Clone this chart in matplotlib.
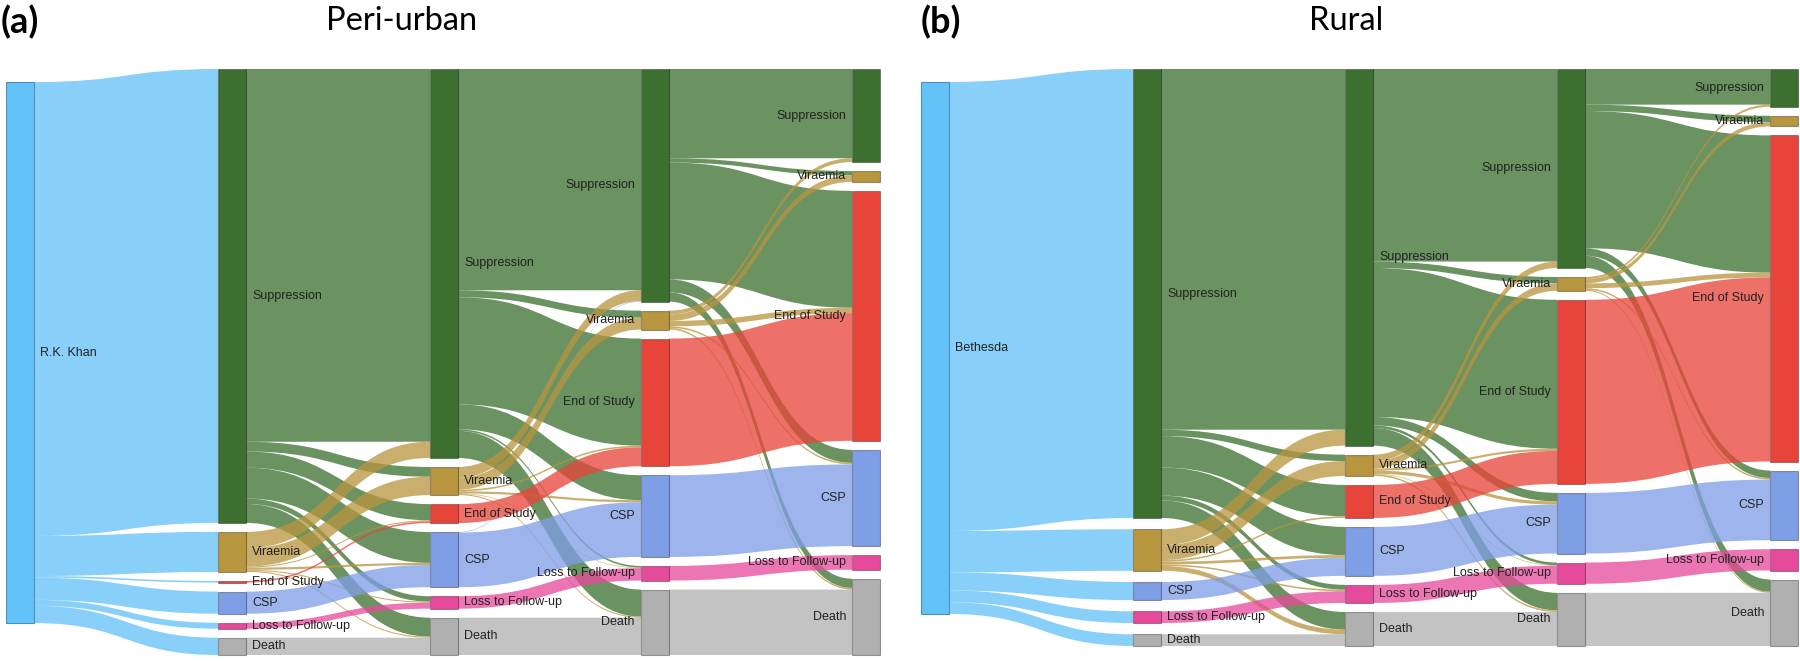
import numpy as np
import matplotlib.pyplot as plt
from matplotlib.patches import Rectangle, PathPatch
from matplotlib.path import Path

states = ["Suppression", "Viraemia", "End of Study", "CSP", "Loss to Follow-up", "Death"]
state_colors = ["#3d7030", "#b8953f", "#e8453a", "#7e9ee6", "#e64a9b", "#b0b0b0"]
source_color = "#63c2f8"

# patients per 1000
# first column: site -> state at first time point
periurban_start = [839, 74, 3, 41, 11, 32]
# rows = from state, columns = to state
periurban_step1 = [
    [689, 18, 30, 57, 10, 35],
    [30, 34, 2, 4, 2, 2],
    [0, 0, 3, 0, 0, 0],
    [0, 0, 0, 41, 0, 0],
    [0, 0, 0, 0, 11, 0],
    [0, 0, 0, 0, 0, 32],
]
periurban_step2 = [
    [409, 13, 198, 46, 3, 50],
    [20, 22, 3, 4, 1, 2],
    [0, 0, 35, 0, 0, 0],
    [1, 0, 0, 101, 0, 0],
    [0, 0, 0, 0, 23, 0],
    [0, 0, 0, 0, 0, 69],
]
periurban_step3 = [
    [165, 8, 216, 24, 0, 17],
    [7, 12, 10, 3, 0, 3],
    [0, 0, 236, 0, 0, 0],
    [0, 0, 0, 151, 0, 0],
    [0, 0, 0, 0, 27, 0],
    [0, 0, 0, 0, 0, 121],
]

rural_start = [844, 78, 0, 34, 22, 22]
rural_step1 = [
    [678, 12, 59, 53, 9, 33],
    [30, 28, 3, 5, 3, 9],
    [0, 0, 0, 0, 0, 0],
    [0, 0, 0, 34, 0, 0],
    [0, 0, 0, 0, 22, 0],
    [0, 0, 0, 0, 0, 22],
]
rural_step2 = [
    [362, 12, 280, 16, 5, 33],
    [12, 14, 4, 6, 1, 3],
    [0, 0, 62, 0, 0, 0],
    [0, 0, 0, 92, 0, 0],
    [0, 0, 0, 0, 34, 0],
    [0, 0, 0, 0, 0, 64],
]
rural_step3 = [
    [67, 12, 258, 14, 0, 23],
    [4, 8, 9, 3, 0, 2],
    [0, 0, 346, 0, 0, 0],
    [0, 0, 0, 114, 0, 0],
    [0, 0, 0, 0, 40, 0],
    [0, 0, 0, 0, 0, 100],
]

# layout (pixels)
TOP = 69
NODE_W = 28
PAD = 9
LINK_ALPHA = 0.76
label_font = ["Liberation Sans", "DejaVu Sans"]


def band(ax, x0, y0, x1, y1, w, color):
    xm = (x0 + x1) / 2
    verts = [(x0, y0), (xm, y0), (xm, y1), (x1, y1),
             (x1, y1 + w), (xm, y1 + w), (xm, y0 + w), (x0, y0 + w), (x0, y0)]
    codes = [Path.MOVETO, Path.CURVE4, Path.CURVE4, Path.CURVE4, Path.LINETO,
             Path.CURVE4, Path.CURVE4, Path.CURVE4, Path.CLOSEPOLY]
    ax.add_patch(PathPatch(Path(verts, codes), facecolor=color, edgecolor="none",
                           alpha=LINK_ALPHA, zorder=1))


def draw_panel(ax, xs, bottom, source_name, start, steps):
    total = sum(start)
    k = (bottom - TOP - PAD * 5) / total
    cols = [list(start)] + [list(np.array(s).sum(axis=0)) for s in steps]

    # stack nodes of every state column, spread to fill the height
    tops = []
    for vals in cols:
        n = sum(1 for v in vals if v > 0)
        gap = (bottom - TOP - k * sum(vals)) / (n - 1)
        y, t = TOP, []
        for v in vals:
            t.append(y if v > 0 else None)
            if v > 0:
                y += v * k + gap
        tops.append(t)

    # source node: between centred and weighted position of its targets
    weighted = sum(v * (t + v * k / 2) for v, t in zip(start, tops[0]) if v > 0) / total
    centre = 0.5 * (weighted + (TOP + bottom) / 2)
    src_top = centre - total * k / 2

    # links source -> first column
    off = src_top
    for j, v in enumerate(start):
        if v > 0:
            band(ax, xs[0] + NODE_W, off, xs[1], tops[0][j], v * k, source_color)
            off += v * k

    # links between state columns
    for si, flows in enumerate(steps):
        flows = np.array(flows)
        out_off = list(tops[si])
        in_off = list(tops[si + 1])
        x0 = xs[si + 1] + NODE_W
        x1 = xs[si + 2]
        for i in range(len(states)):
            for j in range(len(states)):
                v = flows[i, j]
                if v <= 0:
                    continue
                band(ax, x0, out_off[i], x1, in_off[j], v * k, state_colors[i])
                out_off[i] += v * k
                in_off[j] += v * k

    # nodes and labels
    ax.add_patch(Rectangle((xs[0], src_top), NODE_W, total * k, facecolor=source_color,
                           edgecolor="#4a90b8", lw=0.8, zorder=3))
    ax.text(xs[0] + NODE_W + 6, src_top + total * k / 2, source_name, ha="left",
            va="center", fontsize=9, family=label_font, color="#222222", zorder=4)
    for ci, vals in enumerate(cols):
        x = xs[ci + 1]
        for j, v in enumerate(vals):
            if v <= 0:
                continue
            y = tops[ci][j]
            h = max(v * k, 1.2)
            ax.add_patch(Rectangle((x, y), NODE_W, h, facecolor=state_colors[j],
                                   edgecolor="#00000055", lw=0.8, zorder=3))
            if ci < 2:
                ax.text(x + NODE_W + 6, y + h / 2, states[j], ha="left", va="center",
                        fontsize=9, family=label_font, color="#222222", zorder=4)
            else:
                ax.text(x - 6, y + h / 2, states[j], ha="right", va="center",
                        fontsize=9, family=label_font, color="#222222", zorder=4)


fig = plt.figure(figsize=(18, 6.61), dpi=100)
ax = fig.add_axes([0, 0, 1, 1])
ax.set_xlim(0, 1800)
ax.set_ylim(661, 0)
ax.axis("off")

draw_panel(ax, [6, 218, 430, 641, 852], 655, "R.K. Khan", periurban_start,
           [periurban_step1, periurban_step2, periurban_step3])
draw_panel(ax, [921, 1133, 1345, 1557, 1770], 646, "Bethesda", rural_start,
           [rural_step1, rural_step2, rural_step3])

title_font = ["Lato", "DejaVu Sans"]
ax.text(1, 22, "(a)", ha="left", va="center", fontsize=26, fontweight="bold", family=title_font)
ax.text(921, 22, "(b)", ha="left", va="center", fontsize=26, fontweight="bold", family=title_font)
ax.text(402, 21, "Peri-urban", ha="center", va="center", fontsize=23.5, family=title_font)
ax.text(1346, 21, "Rural", ha="center", va="center", fontsize=23.5, family=title_font)

fig.savefig("out.png", dpi=100)
